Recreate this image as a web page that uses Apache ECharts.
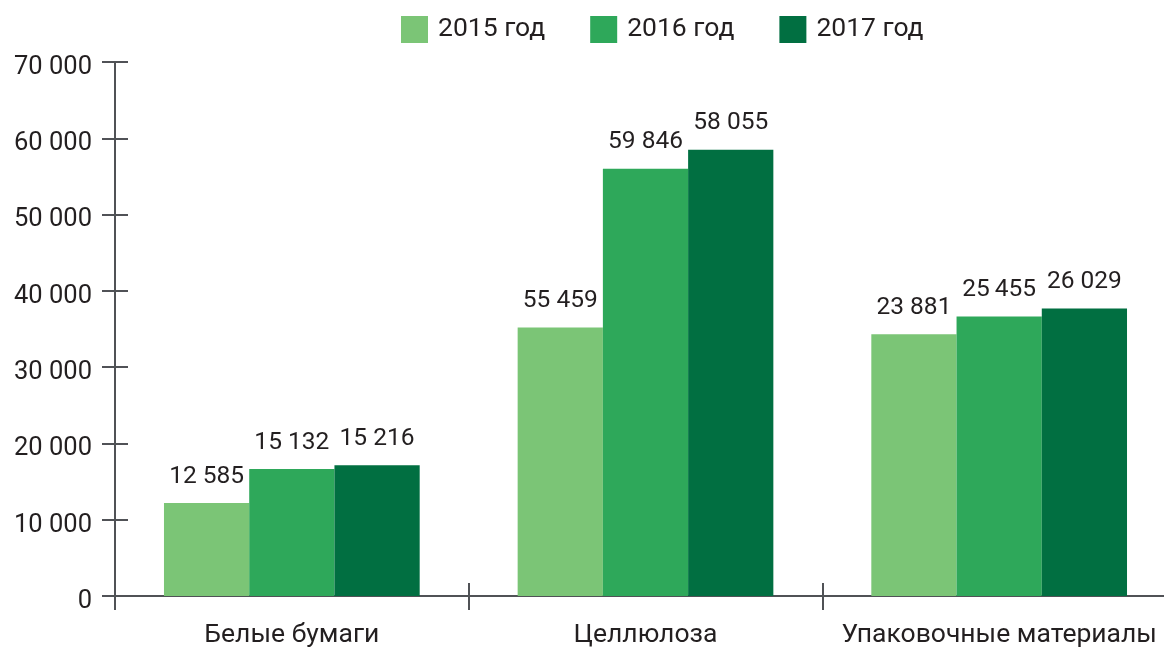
<!DOCTYPE html>
<html><head><meta charset="utf-8">
<script src="https://cdn.jsdelivr.net/npm/echarts@6/dist/echarts.min.js"></script>
<style>html,body{margin:0;padding:0;background:#fff}#c{width:1164px;height:647px}</style>
</head><body><div id="c"></div>
<script>
const categories = ['Белые бумаги', 'Целлюлоза', 'Упаковочные материалы'];
const seriesNames = ['2015 год', '2016 год', '2017 год'];
// bar heights as drawn in the picture
const values2015 = [12200, 35200, 34300];
const values2016 = [16650, 56000, 36650];
const values2017 = [17150, 58500, 37700];
// value labels printed above the bars
const labels2015 = ['12 585', '55 459', '23 881'];
const labels2016 = ['15 132', '59 846', '25\u2009455'];
const labels2017 = ['15 216', '58 055', '26 029'];
const colors = ['#7bc576', '#2ea85a', '#016f41'];

const FONT = 'Roboto';
const TXT = '#231f20';
const AX = '#505256';
const fmt = v => String(v).replace(/\B(?=(\d{3})+(?!\d))/g, ' ');

const vals = [values2015, values2016, values2017];
const labs = [labels2015, labels2016, labels2017];

const chart = echarts.init(document.getElementById('c'));
chart.setOption({
  animation: false,
  textStyle: { fontFamily: FONT },
  legend: {
    top: 11, left: 396,
    itemWidth: 27, itemHeight: 27, itemGap: 45,
    icon: 'rect',
    textStyle: { fontSize: 26.5, color: TXT, fontFamily: FONT, padding: [0, 0, 0, 5] },
    data: seriesNames
  },
  grid: { left: 115, top: 62, width: 1061, height: 534, outerBoundsMode: 'none' },
  xAxis: [{
    type: 'category', data: categories,
    axisLine: { lineStyle: { color: AX, width: 2 } },
    axisTick: { show: true, length: 14, lineStyle: { color: AX, width: 2 } },
    axisLabel: { fontSize: 26.5, color: TXT, margin: 26, fontFamily: FONT, interval: 0 }
  }, {
    type: 'category', data: categories, position: 'bottom',
    axisLine: { show: false },
    axisTick: { show: true, inside: true, length: 13, lineStyle: { color: AX, width: 2 } },
    axisLabel: { show: false }
  }],
  yAxis: [{
    type: 'value', min: 0, max: 70000, interval: 10000,
    axisLine: { show: true, lineStyle: { color: AX, width: 2 } },
    axisTick: { show: true, length: 13, lineStyle: { color: AX, width: 2 } },
    splitLine: { show: false },
    axisLabel: { fontSize: 25.5, color: TXT, margin: 23, fontFamily: FONT, formatter: fmt,
                 verticalAlign: 'top', lineHeight: 11 }
  }, {
    type: 'value', min: 0, max: 70000, interval: 10000, position: 'left',
    axisLine: { show: false },
    axisTick: { show: true, inside: true, length: 13, lineStyle: { color: AX, width: 2 } },
    splitLine: { show: false },
    axisLabel: { show: false }
  }],
  series: seriesNames.map((n, i) => ({
    name: n, type: 'bar', xAxisIndex: 0, yAxisIndex: 0,
    data: vals[i],
    barGap: '0%', barCategoryGap: '27.7%',
    itemStyle: { color: colors[i] },
    label: {
      show: true, position: 'top', distance: 14,
      fontSize: 24.5, color: TXT, fontFamily: FONT,
      formatter: p => labs[i][p.dataIndex]
    }
  }))
});
</script></body></html>
